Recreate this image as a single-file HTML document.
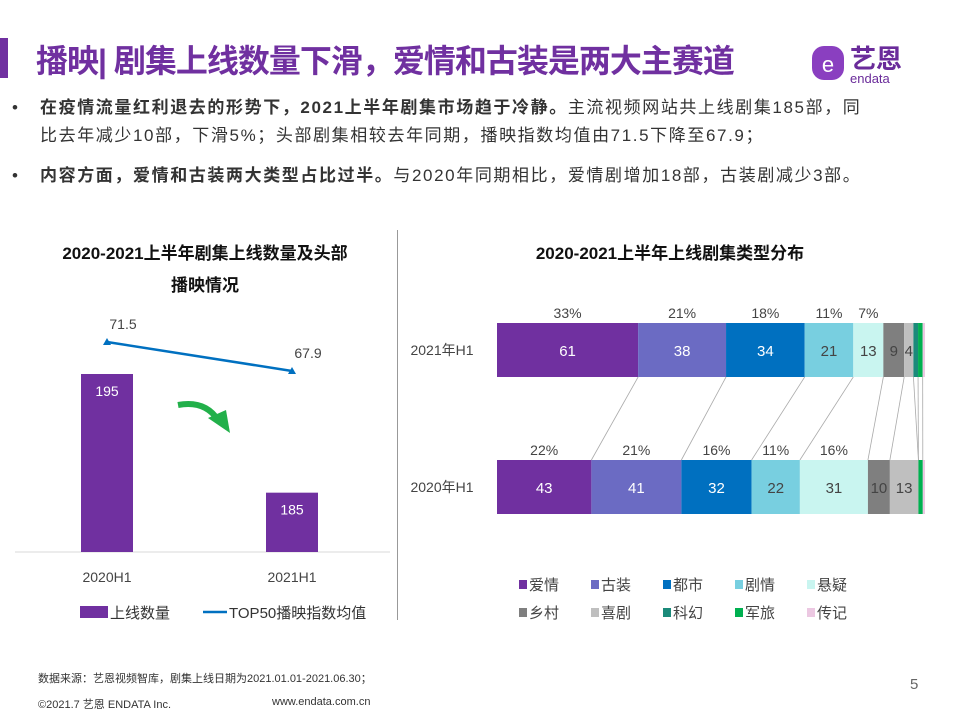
<!DOCTYPE html>
<html><head><meta charset="utf-8"><style>
body{margin:0;background:#fff;font-family:"Liberation Sans","Noto Sans CJK SC",sans-serif;}
#page{position:relative;width:960px;height:720px;overflow:hidden;background:#fff;}
.abs{position:absolute;}
</style></head><body>
<div id="page">
<div class="abs" style="left:0;top:38px;width:8px;height:40px;background:#7030a0"></div>
<div class="abs" style="left:36px;top:36px;font-size:32px;font-weight:bold;color:#7030a0;letter-spacing:-1px">播映| 剧集上线数量下滑，爱情和古装是两大主赛道</div>
<div class="abs" style="left:808px;top:40px;width:120px;height:44px">
 <svg width="120" height="44"><rect x="4" y="6" width="32" height="34" rx="12" fill="#8a3fc0"/><text x="20" y="32" font-size="22" fill="#fff" text-anchor="middle" font-family="Liberation Sans">e</text>
 <text x="42" y="28" font-size="26" font-weight="bold" fill="#6a2b9a" font-family="Noto Sans CJK SC">艺恩</text>
 <text x="42" y="43" font-size="13" fill="#6a2b9a">endata</text></svg>
</div>
<div class="abs" style="left:12px;top:94px;width:940px;font-size:17px;letter-spacing:1.6px;line-height:28px;color:#333;white-space:nowrap">
 <div style="position:relative;padding-left:28px"><span style="position:absolute;left:0">•</span><b>在疫情流量红利退去的形势下，2021上半年剧集市场趋于冷静。</b>主流视频网站共上线剧集185部，同<br>比去年减少10部，下滑5%；头部剧集相较去年同期，播映指数均值由71.5下降至67.9；</div>
 <div style="position:relative;padding-left:28px;margin-top:12px"><span style="position:absolute;left:0">•</span><b>内容方面，爱情和古装两大类型占比过半。</b>与2020年同期相比，爱情剧增加18部，古装剧减少3部。</div>
</div>
<div class="abs" style="left:397px;top:230px;width:1px;height:390px;background:#999"></div>
<div class="abs" style="left:20px;top:238px;width:370px;text-align:center;font-size:17px;font-weight:bold;line-height:32px;color:#111">2020-2021上半年剧集上线数量及头部<br>播映情况</div>
<div class="abs" style="left:460px;top:238px;width:420px;text-align:center;font-size:17px;font-weight:bold;line-height:32px;color:#111">2020-2021上半年上线剧集类型分布</div>
<svg class="abs" style="left:0;top:0" width="960" height="720" id="chart"></svg>
<div class="abs" style="left:38px;top:670px;font-size:11px;color:#333">数据来源：艺恩视频智库，剧集上线日期为2021.01.01-2021.06.30；</div>
<div class="abs" style="left:38px;top:696px;font-size:11px;color:#333">©2021.7 艺恩 ENDATA Inc.</div>
<div class="abs" style="left:272px;top:696px;font-size:11px;color:#333">www.endata.com.cn</div>
<div class="abs" style="left:910px;top:676px;font-size:15px;color:#666">5</div>
</div>
<script>
const years=["2020H1","2021H1"];
const counts=[195,185];
const indexVals=[71.5,67.9];
const rowLabels=["2021年H1","2020年H1"];
const genres=["爱情","古装","都市","剧情","悬疑","乡村","喜剧","科幻","军旅","传记"];
const v2021=[61,38,34,21,13,9,4,2,2,1];
const v2020=[43,41,32,22,31,10,13,0,2,1];
const colors=["#7030a0","#6b6bc3","#0070c0","#78cfe0","#c9f5f0","#7f7f7f","#bfbfbf","#1b8a7a","#00b050","#ecc8e2"];
const svg=document.getElementById('chart');
const NS="http://www.w3.org/2000/svg";
function mk(t,a,txt){const e=document.createElementNS(NS,t);for(const k in a)e.setAttribute(k,a[k]);if(txt!=null)e.textContent=txt;svg.appendChild(e);return e;}
const base=552,cMin=180,cPx=178/15;
const yC=v=>base-(v-cMin)*cPx;
const xL=i=>107+i*185;
const yI=v=>342+(71.5-v)*(29/3.6);
let e=mk('line',{x1:15,x2:390,y1:base,y2:base,stroke:'#d9d9d9'});

counts.forEach((v,i)=>{
 let r=mk('rect',{x:xL(i)-26,y:yC(v),width:52,height:base-yC(v),fill:'#7030a0'});
 
 let t=mk('text',{x:xL(i),y:yC(v)+22,'text-anchor':'middle','font-size':14,fill:'#fff'},v);
 
 let c=mk('text',{x:xL(i),y:base+30,'text-anchor':'middle','font-size':14,fill:'#444'},years[i]);
 
});
let pts=indexVals.map((v,i)=>xL(i)+','+yI(v)).join(' ');
e=mk('polyline',{points:pts,fill:'none',stroke:'#0070c0','stroke-width':2.5});

indexVals.forEach((v,i)=>{
 let m=mk('path',{d:`M${xL(i)-4},${yI(v)+3}L${xL(i)+4},${yI(v)+3}L${xL(i)},${yI(v)-4}Z`,fill:'#0070c0'});
 
 let t=mk('text',{x:xL(i)+16,y:yI(v)-13,'text-anchor':'middle','font-size':14,fill:'#444'},v);
 
});
e=mk('path',{d:'M178,405 Q205,400 218,420',fill:'none',stroke:'#22b04a','stroke-width':6});

e=mk('path',{d:'M208,418 L230,433 L226,410 Z',fill:'#22b04a'});

e=mk('rect',{x:80,y:606,width:28,height:12,fill:'#7030a0'});

e=mk('text',{x:110,y:618,'font-size':15,fill:'#333'},'上线数量');

e=mk('line',{x1:203,x2:227,y1:612,y2:612,stroke:'#0070c0','stroke-width':2.5});

e=mk('text',{x:229,y:618,'font-size':15,fill:'#333'},'TOP50播映指数均值');

const x0=497,W=428;
const rows=[{v:v2021,y:323},{v:v2020,y:460}];
const H=54;
const bounds=rows.map(r=>{const s=r.v.reduce((a,b)=>a+b,0);let acc=0;return r.v.map(v=>{const a=acc;acc+=v;return [x0+a/s*W,x0+acc/s*W,Math.round(v/s*100)];});});
for(let k=0;k<genres.length-1;k++){
 let l=mk('line',{x1:bounds[0][k][1],y1:rows[0].y+H,x2:bounds[1][k][1],y2:rows[1].y,stroke:'#aaa','stroke-width':0.8});
 
}
rows.forEach((r,ri)=>{
 let lab=mk('text',{x:442,y:r.y+H/2+5,'text-anchor':'middle','font-size':14,fill:'#444'},rowLabels[ri]);
 
 r.v.forEach((v,k)=>{
  const [a,b,p]=bounds[ri][k];
  let s=mk('rect',{x:a,y:r.y,width:Math.max(0,b-a),height:H,fill:colors[k]});
  
  if(v>=4){
   let t=mk('text',{x:(a+b)/2,y:r.y+H/2+6,'text-anchor':'middle','font-size':15,fill:k<3?'#fff':'#444'},v);
   
  }
  if(k<5){
   let t=mk('text',{x:(a+b)/2,y:r.y-5,'text-anchor':'middle','font-size':14,fill:'#444'},p+'%');
   
  }
 });
});
genres.forEach((g,k)=>{
 const lx=519+(k%5)*72, ly=590+Math.floor(k/5)*28;
 let s=mk('rect',{x:lx,y:ly-10,width:8,height:9,fill:colors[k]});
 
 let t=mk('text',{x:lx+10,y:ly,'font-size':15,fill:'#444'},g);
 
});
</script>
</body></html>
